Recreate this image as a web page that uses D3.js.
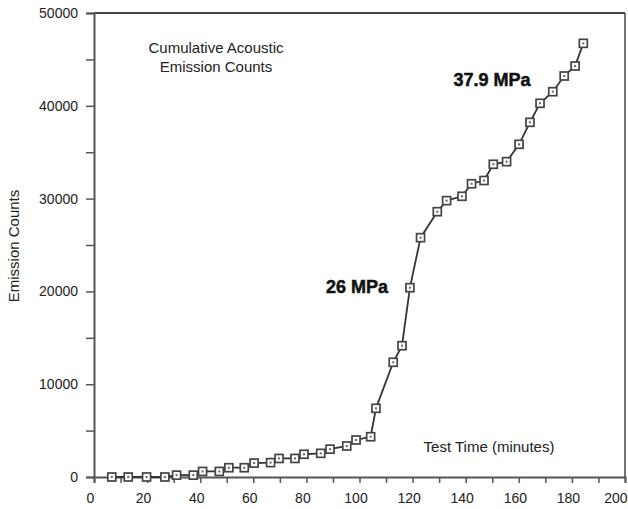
<!DOCTYPE html>
<html><head><meta charset="utf-8">
<script src="https://cdn.jsdelivr.net/npm/d3@7/dist/d3.min.js"></script>
<style>body{margin:0;background:#fff}svg{display:block}</style>
</head><body>
<svg id="c" width="628" height="509"></svg>
<script>
const timeMin = [6.7,12.9,19.8,26.7,31.1,37.4,40.9,47.2,50.8,56.6,60.3,66.5,69.7,75.7,79.1,85.4,88.9,95.2,98.7,104.2,106.2,112.7,116,119,123,129.3,132.8,138.6,142.2,146.9,150.4,155.4,160.1,164.2,168,172.8,177.1,181.2,184.3];
const counts = [0,0,0,0,200,200,600,600,1000,1000,1500,1550,2000,2000,2450,2550,3000,3340,3990,4340,7400,12360,14150,20400,25790,28590,29780,30250,31600,31950,33700,33980,35850,38220,40270,41520,43210,44290,46730];
const xTicks = [0,20,40,60,80,100,120,140,160,180,200];
const yTicks = [0,10000,20000,30000,40000,50000];
const labels = [
  {text:"Cumulative Acoustic", x:216, y:53, w:"normal", s:15},
  {text:"Emission Counts", x:216, y:72, w:"normal", s:15},
  {text:"37.9 MPa", x:492, y:86, w:"bold", s:18},
  {text:"26 MPa", x:357, y:293, w:"bold", s:18},
  {text:"Test Time (minutes)", x:489, y:452, w:"normal", s:15}
];

const svg = d3.select("#c");
const L=94, R=625, T=13, B=477;
const x = d3.scaleLinear().domain([0,200]).range([L,R]);
const y = d3.scaleLinear().domain([0,50000]).range([B,T]);
const font = "'Liberation Sans', Arial, sans-serif";
const axisCol = "#555";

// frame (top, right)
svg.append("line").attr("x1",L).attr("x2",R).attr("y1",T).attr("y2",T).attr("stroke","#444").attr("stroke-width",1.8);
svg.append("line").attr("x1",R).attr("x2",R).attr("y1",T).attr("y2",B).attr("stroke","#444").attr("stroke-width",1.5);

// x axis
const xa = svg.append("g").attr("transform",`translate(0,${B})`)
  .call(d3.axisBottom(x).tickValues(d3.range(0,201,10)).tickSize(6).tickFormat(d=>xTicks.includes(d)?d:""));
xa.select(".domain").attr("stroke",axisCol).attr("stroke-width",2);
xa.selectAll(".tick line").attr("stroke",axisCol).attr("stroke-width",1.5);
xa.selectAll(".tick text").attr("font-family",font).attr("font-size",14).attr("fill","#222").attr("dx",-4).attr("y",16);
xa.selectAll(".tick text").filter(d=>d===200).attr("text-anchor","end").attr("dx",0).attr("x",2);

// y axis
const ya = svg.append("g").attr("transform",`translate(${L},0)`)
  .call(d3.axisLeft(y).tickValues(d3.range(0,50001,5000)).tickSize(8).tickFormat(d=>yTicks.includes(d)?d:""));
ya.select(".domain").attr("stroke",axisCol).attr("stroke-width",2);
ya.selectAll(".tick line").attr("stroke",axisCol).attr("stroke-width",1.5);
ya.selectAll(".tick text").attr("font-family",font).attr("font-size",14).attr("fill","#222").attr("x",-16);

// y title
svg.append("text").attr("transform","translate(19,246) rotate(-90)").attr("text-anchor","middle")
  .attr("font-family",font).attr("font-size",15).attr("fill","#222").text("Emission Counts");

const data = timeMin.map((t,i)=>({t, c:counts[i]}));
svg.append("path").datum(data)
  .attr("d", d3.line().x(d=>x(d.t)).y(d=>y(d.c)))
  .attr("fill","none").attr("stroke","#333").attr("stroke-width",1.8);
const m = svg.append("g").selectAll("g").data(data).join("g")
  .attr("transform",d=>`translate(${x(d.t)},${y(d.c)})`);
m.append("rect").attr("x",-4).attr("y",-4).attr("width",8).attr("height",8)
  .attr("fill","#fff").attr("stroke","#444").attr("stroke-width",1.7);
m.append("rect").attr("x",-1).attr("y",-1).attr("width",2).attr("height",2).attr("fill","#666");

svg.append("g").selectAll("text").data(labels).join("text")
  .attr("x",d=>d.x).attr("y",d=>d.y).attr("text-anchor","middle")
  .attr("font-family",font).attr("font-weight",d=>d.w).attr("font-size",d=>d.s)
  .attr("fill",d=>d.w==="bold"?"#111":"#222")
  .attr("stroke",d=>d.w==="bold"?"#111":"none").attr("stroke-width",0.5)
  .text(d=>d.text);
</script>
</body></html>
